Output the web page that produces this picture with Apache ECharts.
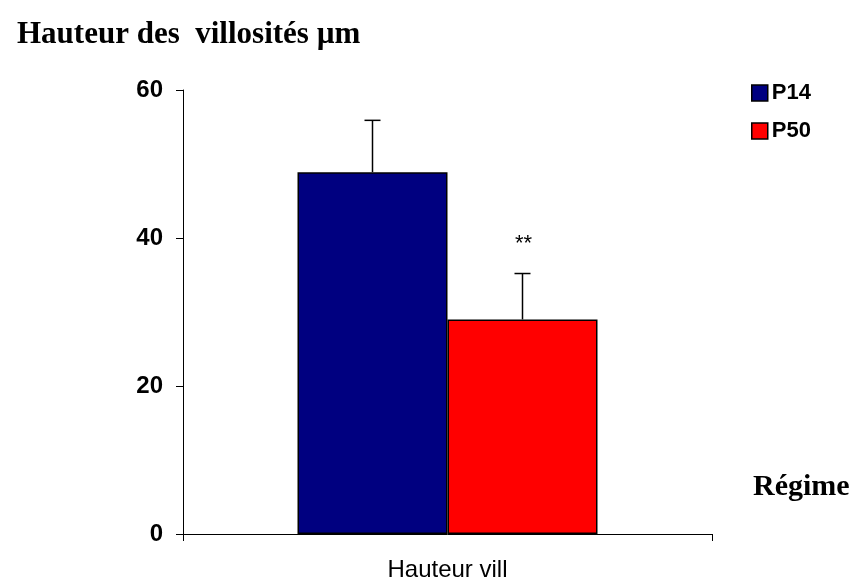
<!DOCTYPE html>
<html>
<head>
<meta charset="utf-8">
<script src="https://cdn.jsdelivr.net/npm/echarts@6/dist/echarts.min.js"></script>
<style>
  html, body { margin: 0; padding: 0; background: #fff; }
  #chart { width: 854px; height: 583px; }
</style>
</head>
<body>
<div id="chart"></div>
<script>
// data
var categories = ['Hauteur vill'];
var seriesNames = ['P14', 'P50'];
var means = [48.9, 29.0];
var errors = [7.0, 6.2];
var signif = ['', '**'];
var yTicks = [0, 20, 40, 60];

var colors = ['#000080', '#FF0000'];
var barWidth = 150;

var barSeries = seriesNames.map(function (name, i) {
	return {
		name: name,
		type: 'bar',
		barWidth: barWidth,
		barGap: '0%',
		data: [means[i]],
		itemStyle: { color: colors[i], borderColor: '#000', borderWidth: 1.5 },
		z: 2
	};
});

// error bars (upper only, like the original) + significance stars
var errData = [];
for (var i = 0; i < seriesNames.length; ++i) {
	errData.push([0, means[i], errors[i], i, signif[i]]);
}

var errSeries = {
	type: 'custom',
	data: errData,
	z: 5,
	silent: true,
	renderItem: function (params, api) {
		var idx = api.value(3);
		var base = api.coord([api.value(0), api.value(1)]);
		var top = api.coord([api.value(0), api.value(1) + api.value(2)]);
		var x = base[0] + (idx - 0.5) * barWidth;
		var cap = 8;
		var children = [
			{ type: 'line', shape: { x1: x, y1: base[1], x2: x, y2: top[1] }, style: { stroke: '#000', lineWidth: 1.5 } },
			{ type: 'line', shape: { x1: x - cap, y1: top[1], x2: x + cap, y2: top[1] }, style: { stroke: '#000', lineWidth: 1.5 } }
		];
		var star = errData[params.dataIndex][4];
		if (star) {
			children.push({
				type: 'text',
				x: x + 1,
				y: top[1] - 30,
				style: { text: star, fill: '#000', font: '22px Arial', align: 'center', verticalAlign: 'middle' }
			});
		}
		return { type: 'group', children: children };
	}
};

var option = {
	animation: false,
	backgroundColor: '#fff',
	title: [{
		text: 'Hauteur des  villosités µm',
		left: 12,
		top: 14,
		textStyle: { fontFamily: 'Liberation Serif', fontWeight: 'bold', fontSize: 31, color: '#000' }
	}, {
		text: 'Régime',
		left: 748,
		top: 467,
		textStyle: { fontFamily: 'Liberation Serif', fontWeight: 'bold', fontSize: 30, color: '#000' }
	}],
	legend: {
		data: seriesNames,
		orient: 'vertical',
		left: 746,
		top: 77,
		itemWidth: 16,
		itemHeight: 16,
		itemGap: 16,
		icon: 'rect',
		itemStyle: { borderColor: '#000', borderWidth: 1.5 },
		textStyle: { fontFamily: 'Arial', fontWeight: 'bold', fontSize: 22, color: '#000', padding: [0, 0, 0, -1] }
	},
	grid: { left: 183, right: 142, top: 90, bottom: 49 },
	xAxis: {
		type: 'category',
		data: categories,
		axisLine: { lineStyle: { color: '#000', width: 1 } },
		axisTick: { show: true, length: 7, lineStyle: { color: '#000' } },
		axisLabel: { fontFamily: 'Arial', fontSize: 24, color: '#000', margin: 24 }
	},
	yAxis: {
		type: 'value',
		min: yTicks[0],
		max: yTicks[yTicks.length - 1],
		interval: yTicks[1] - yTicks[0],
		axisLine: { show: true, lineStyle: { color: '#000', width: 1 } },
		axisTick: { show: true, length: 7, lineStyle: { color: '#000' } },
		splitLine: { show: false },
		axisLabel: { fontFamily: 'Arial', fontWeight: 'bold', fontSize: 24, color: '#000', margin: 20 }
	},
	series: barSeries.concat([errSeries])
};

var chart = echarts.init(document.getElementById('chart'));
chart.setOption(option);
</script>
</body>
</html>
